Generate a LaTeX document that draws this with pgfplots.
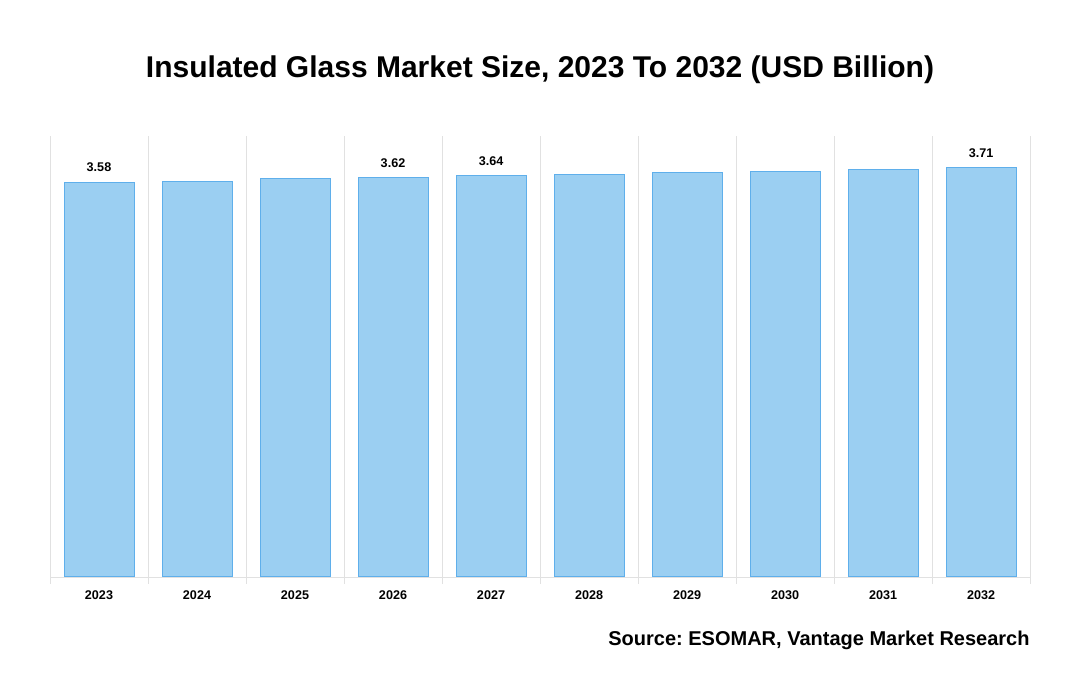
\documentclass[border=0pt]{standalone}
\usepackage{pgfplots}
\usepackage{pgfplotstable}
\pgfplotsset{compat=1.18}
\usepackage{fontspec}
\setmainfont{Liberation Sans}
\frenchspacing
\definecolor{barfill}{RGB}{155,207,242}
\definecolor{baredge}{RGB}{95,175,235}
\definecolor{gridgray}{RGB}{225,225,225}

\pgfplotstableread{
x y lab
0 3.58 3.58
1 3.59 {}
2 3.61 {}
3 3.62 3.62
4 3.64 3.64
5 3.65 {}
6 3.67 {}
7 3.68 {}
8 3.70 {}
9 3.71 3.71
}\marketdata

\begin{document}
\begin{tikzpicture}
\path[use as bounding box] (0,0) rectangle (540pt,350pt);
\node[font=\bfseries\fontsize{15}{18}\selectfont] at (270pt,315pt)
  {Insulated Glass Market Size, 2023 To 2032 (USD Billion)};
\node[font=\bfseries\fontsize{10}{12}\selectfont, anchor=east, inner sep=0pt] at (515pt,30pt)
  {Source: ESOMAR, Vantage Market Research};
\begin{axis}[
  at={(25pt,61.5pt)}, anchor=south west,
  scale only axis, width=490pt, height=220.5pt,
  xmin=-0.5, xmax=9.5, ymin=0, ymax=4,
  ybar, bar width=35pt, bar shift=0pt,
  axis y line=none,
  axis x line*=bottom,
  x axis line style={draw=gridgray},
  xtick={0,...,9},
  xticklabels={2023,2024,2025,2026,2027,2028,2029,2030,2031,2032},
  major tick length=0pt,
  minor xtick={-0.5,0.5,...,9.5},
  minor tick length=3.5pt,
  tick align=outside,
  minor x tick style={draw=gridgray},
  xminorgrids, minor grid style={draw=gridgray, line width=0.4pt},
  xticklabel style={font=\bfseries\fontsize{6.3}{7}\selectfont, yshift=-3.5pt},
  point meta=explicit symbolic,
  nodes near coords,
  nodes near coords style={font=\bfseries\fontsize{6.3}{7}\selectfont, anchor=south, yshift=1.5pt},
]
\addplot[fill=barfill, draw=baredge, line width=0.5pt]
  table[x=x, y=y, meta=lab] {\marketdata};
\end{axis}
\end{tikzpicture}
\end{document}
